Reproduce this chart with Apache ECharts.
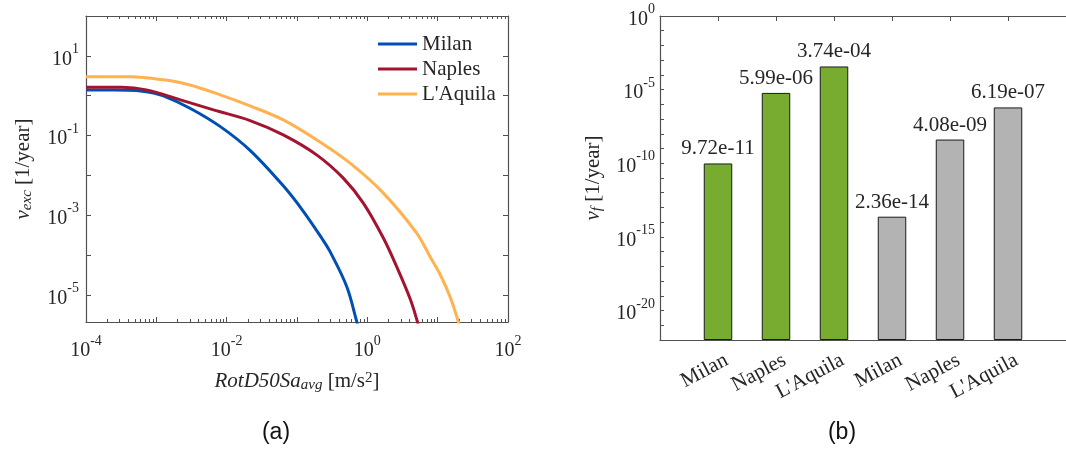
<!DOCTYPE html>
<html>
<head>
<meta charset="utf-8">
<script src="https://cdn.jsdelivr.net/npm/echarts@6.0.0/dist/echarts.min.js"></script>
<style>
  html, body { margin: 0; padding: 0; background: #fff; }
  #chart { width: 1066px; height: 450px; }
</style>
</head>
<body>
<div id="chart"></div>
<script>
// (a) exceedance curves, [Sa, rate]
var milan = [
    [1e-4, 1.40], [2.5e-4, 1.40], [5.2e-4, 1.36], [8e-4, 1.22], [1.26e-3, 0.99],
    [3.01e-3, 0.486], [8.04e-3, 0.170], [2.15e-2, 0.0426], [6.38e-2, 5.48e-3], [0.123, 1.26e-3],
    [0.224, 2.69e-4], [0.294, 1.24e-4], [0.509, 1.64e-5], [0.706, 2.18e-6], [0.75, 1.43e-6]
];
var naples = [
    [1e-4, 1.62], [3.2e-4, 1.62], [7.2e-4, 1.40], [2.2e-3, 0.785], [6.5e-3, 0.44],
    [2.15e-2, 0.238], [6.38e-2, 0.104], [0.19, 0.0328], [0.455, 8.55e-3], [0.877, 2.02e-3],
    [1.69, 2.69e-4], [2.63, 5.0e-5], [4.07, 7.9e-6], [5.13, 2.2e-6], [5.4, 1.5e-6]
];
var aquila = [
    [1e-4, 3.0], [4.3e-4, 3.0], [1.26e-3, 2.5], [3.0e-3, 1.86], [8.1e-3, 1.05],
    [2.15e-2, 0.555], [6.38e-2, 0.247], [0.19, 0.078], [0.568, 0.0203], [1.69, 3.6e-3],
    [5.03, 3.58e-4], [7.76, 9.3e-5], [10.8, 3.32e-5], [15.0, 9.06e-6], [19.6, 2.19e-6],
    [20.8, 1.43e-6]
];
var curveNames = ['Milan', 'Naples', "L'Aquila"];

// (b) failure rates, first three green, last three grey
var barSites = ['Milan', 'Naples', "L'Aquila", 'Milan', 'Naples', "L'Aquila"];
var barRates = [9.72e-11, 5.99e-06, 3.74e-04, 2.36e-14, 4.08e-09, 6.19e-07];

var FONT = 'Liberation Serif';
var INK = '#262626';
var AXIS = '#505050';
var Y_FLOOR = -22; // lowest decade shown in (b)

// minor log ticks (2..9 in each decade), in decade units
var minorTicks = [];
for (var k = -4; k < 2; k++) {
    for (var m = 2; m < 10; m++) minorTicks.push(k + Math.log10(m));
}

var tickRich = {
    b: { fontFamily: FONT, fontSize: 20, lineHeight: 27, verticalAlign: 'bottom', color: INK },
    s: { fontFamily: FONT, fontSize: 14, lineHeight: 14, verticalAlign: 'top', color: INK }
};
var nameRich = {
    i: { fontFamily: FONT, fontSize: 21, fontStyle: 'italic', lineHeight: 22, verticalAlign: 'top', color: INK },
    r: { fontFamily: FONT, fontSize: 21, lineHeight: 22, verticalAlign: 'top', color: INK },
    sub: { fontFamily: FONT, fontSize: 15, fontStyle: 'italic', lineHeight: 15, padding: [12, 0, 0, 0], verticalAlign: 'bottom', color: INK },
    sup: { fontFamily: FONT, fontSize: 15, lineHeight: 15, verticalAlign: 'top', color: INK }
};

// only whole decades, odd or even ones
function decadeLabel(v, odd) {
    var e = Math.log10(v);
    var n = Math.round(e);
    if (Math.abs(e - n) > 1e-6) return '';
    if ((Math.abs(n) % 2 === 1) !== odd) return '';
    return '{b|10}{s|' + n + '}';
}

function fmtExp(v) {
    return v.toExponential(2).replace(/e([+-])(\d)$/, 'e$10$2');
}

var lineAxis = { show: true, onZero: false, lineStyle: { color: AXIS, width: 1.2 } };
var tickIn = { show: true, inside: true, length: 5, lineStyle: { color: AXIS } };
var minorAxis = {
    gridIndex: 0, type: 'value', min: -4, max: 2,
    axisLine: { show: false }, axisLabel: { show: false }, splitLine: { show: false },
    axisTick: { show: true, inside: true, length: 3, customValues: minorTicks, lineStyle: { color: AXIS } }
};

var option = {
    animation: false,
    textStyle: { fontFamily: FONT, color: INK },
    grid: [
        { left: 86, top: 16, width: 422, height: 306 },
        { left: 660, top: 16, width: 410, height: 324 }
    ],
    legend: {
        data: curveNames,
        orient: 'vertical',
        left: 373, top: 27,
        icon: 'rect',
        itemWidth: 39, itemHeight: 3,
        itemGap: 1,
        textStyle: { fontFamily: FONT, fontSize: 21, color: INK, lineHeight: 24 }
    },
    xAxis: [
        {
            gridIndex: 0, type: 'log', logBase: 10, min: 1e-4, max: 100,
            axisLine: lineAxis, axisTick: tickIn, splitLine: { show: false },
            axisLabel: { margin: 12, formatter: function (v) { return decadeLabel(v, false); }, rich: tickRich },
            name: '{i|RotD50Sa}{sub|avg}{r| [m/s}{sup|2}{r|]}',
            nameLocation: 'middle', nameGap: 48,
            nameTextStyle: { rich: nameRich }
        },
        {
            gridIndex: 0, type: 'log', logBase: 10, min: 1e-4, max: 100, position: 'top',
            axisLine: lineAxis, axisTick: tickIn, axisLabel: { show: false }, splitLine: { show: false }
        },
        {
            gridIndex: 1, type: 'value', min: 0, max: 7, interval: 1,
            axisLine: lineAxis, axisTick: tickIn, splitLine: { show: false },
            axisLabel: {
                rotate: 28, margin: 19, fontFamily: FONT, fontSize: 21, color: INK,
                customValues: barSites.map(function (s, i) { return i + 1.15; }),
                formatter: function (v) { return barSites[Math.round(v) - 1] || ''; }
            }
        },
        {
            gridIndex: 1, type: 'value', min: 0, max: 7, interval: 1, position: 'top',
            axisLine: lineAxis, axisTick: tickIn, axisLabel: { show: false }, splitLine: { show: false }
        },
        Object.assign({ position: 'bottom' }, minorAxis),
        Object.assign({ position: 'top' }, minorAxis)
    ],
    yAxis: [
        {
            gridIndex: 0, type: 'log', logBase: 10, min: 2.1e-6, max: 100,
            axisLine: lineAxis, axisTick: tickIn, splitLine: { show: false },
            axisLabel: { margin: 7, formatter: function (v) { return decadeLabel(v, true); }, rich: tickRich },
            name: '{i|v}{sub|exc}{r| [1/year]}',
            nameLocation: 'middle', nameGap: 51,
            nameTextStyle: { rich: nameRich }
        },
        {
            gridIndex: 0, type: 'log', logBase: 10, min: 2.1e-6, max: 100, position: 'right',
            axisLine: lineAxis, axisTick: tickIn, axisLabel: { show: false }, splitLine: { show: false }
        },
        {
            gridIndex: 1, type: 'value', min: 0, max: -Y_FLOOR, interval: 1,
            axisLine: lineAxis, axisTick: { show: true, inside: true, length: 4, lineStyle: { color: AXIS } },
            splitLine: { show: false },
            axisLabel: {
                margin: 5, rich: tickRich,
                formatter: function (v) {
                    var n = Math.round(v) + Y_FLOOR;
                    return n % 5 === 0 ? '{b|10}{s|' + n + '}' : '';
                }
            },
            name: '{i|v}{sub|f}{r| [1/year]}',
            nameLocation: 'middle', nameGap: 55,
            nameTextStyle: { rich: nameRich }
        }
    ],
    series: [
        {
            name: curveNames[0], type: 'line', xAxisIndex: 0, yAxisIndex: 0,
            data: milan, showSymbol: false, smooth: 0.35,
            lineStyle: { width: 3, color: '#0050b4' }, itemStyle: { color: '#0050b4' }
        },
        {
            name: curveNames[1], type: 'line', xAxisIndex: 0, yAxisIndex: 0,
            data: naples, showSymbol: false, smooth: 0.35,
            lineStyle: { width: 3, color: '#a2142f' }, itemStyle: { color: '#a2142f' }
        },
        {
            name: curveNames[2], type: 'line', xAxisIndex: 0, yAxisIndex: 0,
            data: aquila, showSymbol: false, smooth: 0.35,
            lineStyle: { width: 3, color: '#ffb24f' }, itemStyle: { color: '#ffb24f' }
        },
        {
            name: 'rate', type: 'bar', xAxisIndex: 2, yAxisIndex: 2,
            barWidth: 28.5,
            // bar height = decades above the floor of the axis
            data: barRates.map(function (r, i) {
                return [i + 1, Math.log10(r) - Y_FLOOR];
            }),
            itemStyle: {
                borderColor: '#1a1a1a', borderWidth: 1,
                color: function (p) { return p.dataIndex < 3 ? '#77ac30' : '#b3b3b3'; }
            },
            label: {
                show: true, position: 'top', distance: 4,
                fontFamily: FONT, fontSize: 21, color: INK,
                formatter: function (p) { return fmtExp(barRates[p.dataIndex]); }
            }
        }
    ],
    graphic: [
        { type: 'text', x: 276, y: 433, style: { text: '(a)', fontFamily: 'Liberation Sans', fontSize: 23, fill: '#111', align: 'center', verticalAlign: 'middle' } },
        { type: 'text', x: 842, y: 433, style: { text: '(b)', fontFamily: 'Liberation Sans', fontSize: 23, fill: '#111', align: 'center', verticalAlign: 'middle' } }
    ]
};

var chart = echarts.init(document.getElementById('chart'));
chart.setOption(option);
</script>
</body>
</html>
